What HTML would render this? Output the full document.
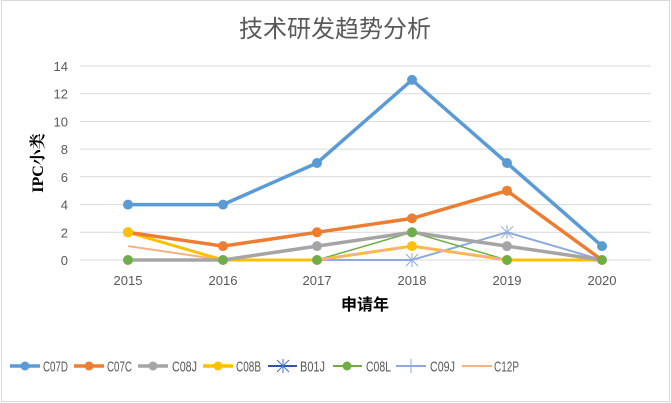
<!DOCTYPE html>
<html><head><meta charset="utf-8"><style>
html,body{margin:0;padding:0;background:#fff;}
svg{display:block;}
</style></head><body>
<svg width="671" height="403" viewBox="0 0 671 403" xmlns="http://www.w3.org/2000/svg" font-family="'Liberation Sans','Noto Sans CJK SC',sans-serif">
<rect x="1.5" y="0.5" width="668" height="401" fill="#fff" stroke="#d9d9d9"/>
<text x="335" y="37" text-anchor="middle" font-size="24" fill="#595959">技术研发趋势分析</text>
<g stroke="#d9d9d9" stroke-width="1">
<line x1="80" x2="651" y1="66" y2="66"/><line x1="80" x2="651" y1="93.7" y2="93.7"/>
<line x1="80" x2="651" y1="121.4" y2="121.4"/><line x1="80" x2="651" y1="149.1" y2="149.1"/>
<line x1="80" x2="651" y1="176.8" y2="176.8"/><line x1="80" x2="651" y1="204.6" y2="204.6"/>
<line x1="80" x2="651" y1="232.3" y2="232.3"/><line x1="80" x2="651" y1="260" y2="260"/>
</g>
<g font-size="13" fill="#595959" text-anchor="end">
<text x="68" y="71">14</text><text x="68" y="98.7">12</text><text x="68" y="126.4">10</text>
<text x="68" y="154.1">8</text><text x="68" y="181.8">6</text><text x="68" y="209.6">4</text>
<text x="68" y="237.3">2</text><text x="68" y="265">0</text>
</g>
<g font-size="13" fill="#595959" text-anchor="middle">
<text x="128" y="285">2015</text><text x="223" y="285">2016</text><text x="317" y="285">2017</text>
<text x="412" y="285">2018</text><text x="507" y="285">2019</text><text x="602" y="285">2020</text>
</g>
<text x="365" y="310" text-anchor="middle" font-size="16" font-weight="bold" fill="#000">申请年</text>
<text transform="translate(43,163) rotate(-90)" text-anchor="middle" font-size="16" font-weight="bold" font-family="'Liberation Serif','Noto Serif CJK SC',serif" fill="#000">IPC小类</text>
<polyline fill="none" stroke="#f4b183" stroke-width="2" points="128,246.1 223,260 317,260 412,246.1 507,260 602,260"/>
<polyline fill="none" stroke="#8faadc" stroke-width="2" points="128,260 223,260 317,260 412,260 507,232.3 602,260"/>
<polyline fill="none" stroke="#70ad47" stroke-width="1.5" points="128,260 223,260 317,260 412,232.3 507,260 602,260"/>
<polyline fill="none" stroke="#ffc000" stroke-width="3" points="128,232.3 223,260 317,260 412,246.1 507,260 602,260"/>
<polyline fill="none" stroke="#f4b183" stroke-width="2" points="317,260 412,246.1 507,260"/>
<polyline fill="none" stroke="#a5a5a5" stroke-width="3.5" points="128,260 223,260 317,246.1 412,232.3 507,246.1 602,260"/>
<polyline fill="none" stroke="#ed7d31" stroke-width="3.5" points="128,232.3 223,246.1 317,232.3 412,218.4 507,190.7 602,260"/>
<polyline fill="none" stroke="#5b9bd5" stroke-width="3.5" points="128,204.6 223,204.6 317,163 412,79.9 507,163 602,246.1"/>
<g fill="#5b9bd5"><circle cx="128" cy="204.6" r="5"/><circle cx="223" cy="204.6" r="5"/><circle cx="317" cy="163" r="5"/><circle cx="412" cy="79.9" r="5"/><circle cx="507" cy="163" r="5"/><circle cx="602" cy="246.1" r="5"/></g>
<g fill="#ed7d31"><circle cx="128" cy="232.3" r="5"/><circle cx="223" cy="246.1" r="5"/><circle cx="317" cy="232.3" r="5"/><circle cx="412" cy="218.4" r="5"/><circle cx="507" cy="190.7" r="5"/></g>
<g fill="#a5a5a5"><circle cx="317" cy="246.1" r="5"/><circle cx="412" cy="232.3" r="5"/><circle cx="507" cy="246.1" r="5"/></g>
<g fill="#ffc000"><circle cx="128" cy="232.3" r="5"/><circle cx="412" cy="246.1" r="5"/></g>
<g fill="#70ad47"><circle cx="128" cy="260" r="5"/><circle cx="223" cy="260" r="5"/><circle cx="317" cy="260" r="5"/><circle cx="412" cy="232.3" r="5"/><circle cx="507" cy="260" r="5"/><circle cx="602" cy="260" r="5"/></g>
<g stroke="#8faadc" stroke-width="1"><path d="M406,254l12,12M418,254l-12,12M412,253v14M501,226.3l12,12M513,226.3l-12,12M507,225v14"/></g>
<g stroke-width="3.5">
<line x1="10" x2="40" y1="366" y2="366" stroke="#5b9bd5"/><circle cx="25" cy="366" r="4.5" fill="#5b9bd5"/>
<line x1="74" x2="104" y1="366" y2="366" stroke="#ed7d31"/><circle cx="89" cy="366" r="4.5" fill="#ed7d31"/>
<line x1="138" x2="168" y1="366" y2="366" stroke="#a5a5a5"/><circle cx="153" cy="366" r="4.5" fill="#a5a5a5"/>
<line x1="203" x2="233" y1="366" y2="366" stroke="#ffc000"/><circle cx="218" cy="366" r="4.5" fill="#ffc000"/>
<line x1="268" x2="297" y1="366" y2="366" stroke="#2f55a4" stroke-width="2"/>
<path d="M277,360l12,12M289,360l-12,12M283,359v14" stroke="#4472c4" stroke-width="1"/>
<line x1="333" x2="362" y1="366" y2="366" stroke="#70ad47" stroke-width="2"/><circle cx="347" cy="366" r="4.5" fill="#70ad47"/>
<line x1="396" x2="426" y1="366" y2="366" stroke="#8faadc" stroke-width="2"/><path d="M411,359v14" stroke="#8faadc" stroke-width="1"/>
<line x1="462" x2="492" y1="366" y2="366" stroke="#f4b183" stroke-width="2"/>
</g>
<g font-size="15" fill="#595959">
<text x="43" y="371.5" textLength="25" lengthAdjust="spacingAndGlyphs">C07D</text>
<text x="107" y="371.5" textLength="25" lengthAdjust="spacingAndGlyphs">C07C</text>
<text x="172" y="371.5" textLength="25" lengthAdjust="spacingAndGlyphs">C08J</text>
<text x="236" y="371.5" textLength="25" lengthAdjust="spacingAndGlyphs">C08B</text>
<text x="300" y="371.5" textLength="25" lengthAdjust="spacingAndGlyphs">B01J</text>
<text x="366" y="371.5" textLength="25" lengthAdjust="spacingAndGlyphs">C08L</text>
<text x="430" y="371.5" textLength="25" lengthAdjust="spacingAndGlyphs">C09J</text>
<text x="494" y="371.5" textLength="25" lengthAdjust="spacingAndGlyphs">C12P</text>
</g>
</svg>
</body></html>
